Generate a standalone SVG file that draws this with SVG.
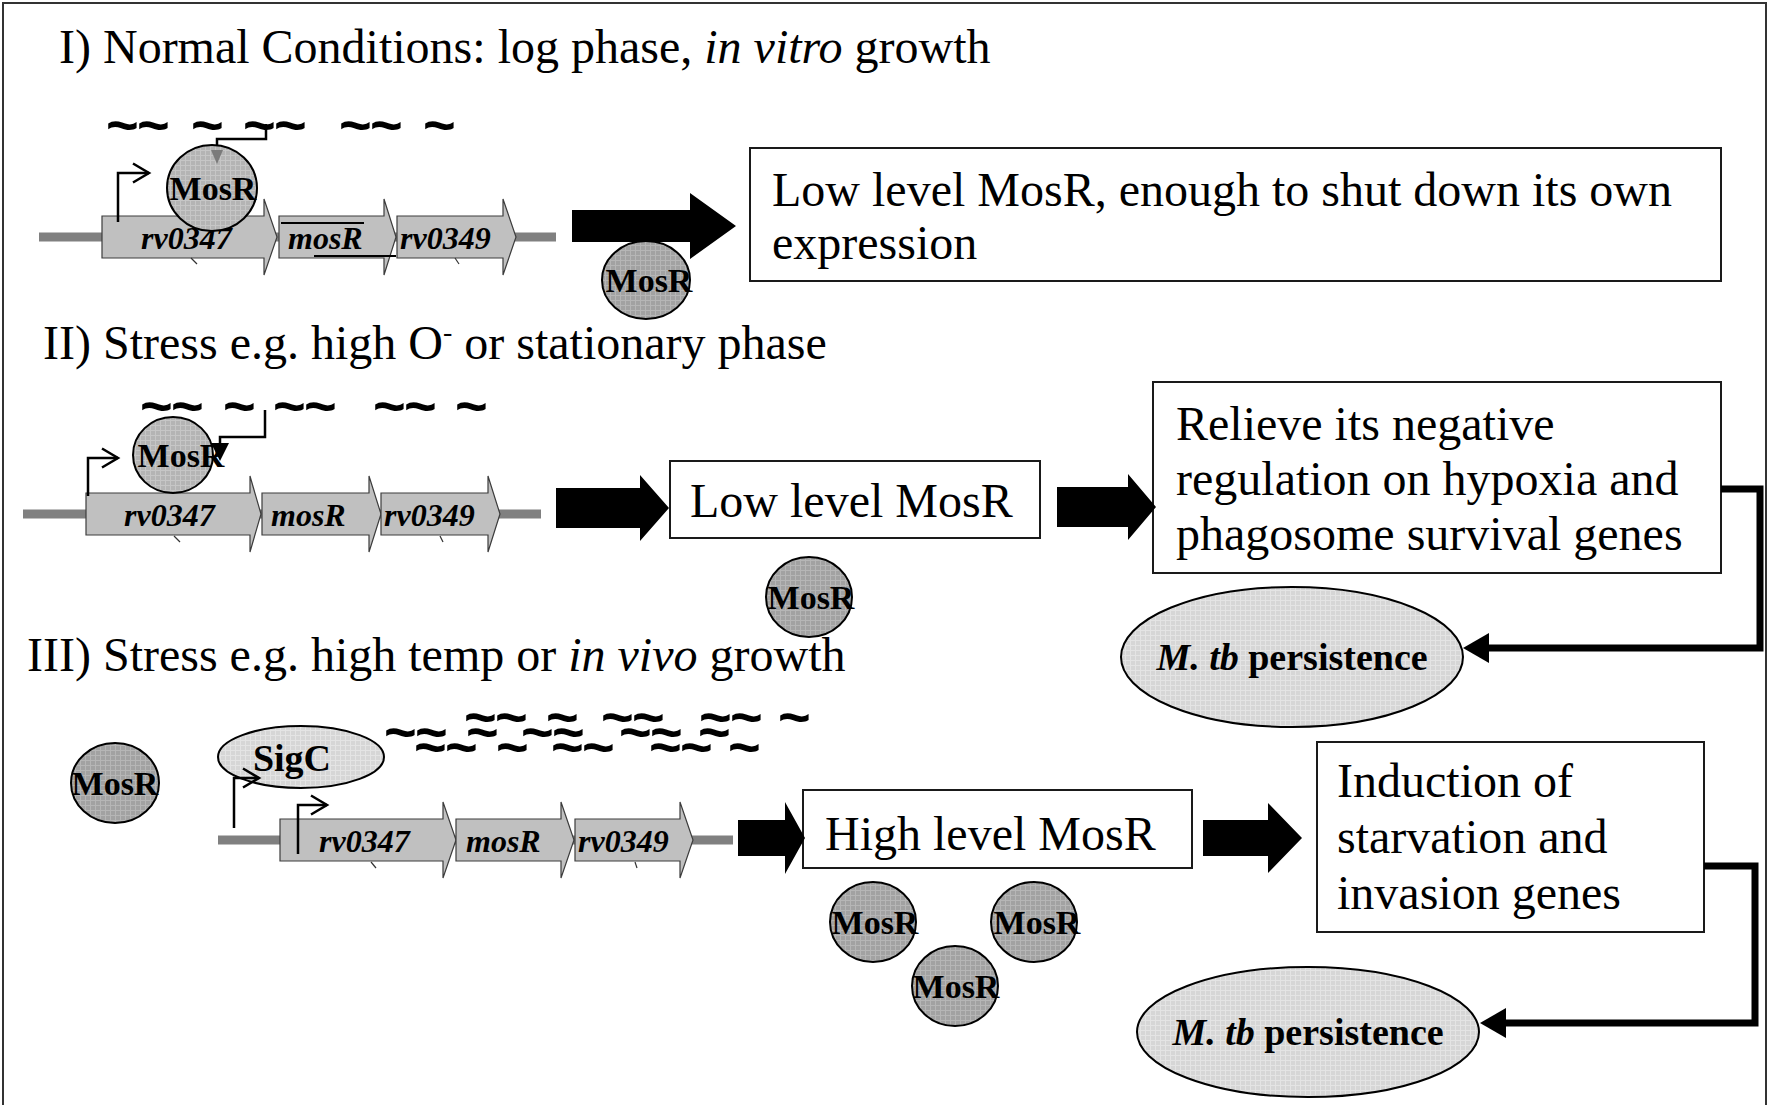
<svg xmlns="http://www.w3.org/2000/svg" width="1769" height="1105" viewBox="0 0 1769 1105">
<defs>
<style>
.serif{font-family:"Liberation Serif","Times New Roman",serif}
.big{font-family:"Liberation Serif","Times New Roman",serif;font-size:48px;fill:#000}
.dna{stroke:#808080;stroke-width:9;fill:none}
.gene{fill:#c0c0c0;stroke:#3c3c3c;stroke-width:1.2}
.gl{font-family:"Liberation Serif","Times New Roman",serif;font-size:32px;font-weight:bold;font-style:italic}
.mt{font-family:"Liberation Serif","Times New Roman",serif;font-size:34px;font-weight:bold;text-anchor:middle}
.box{fill:#fff;stroke:#1a1a1a;stroke-width:2}
.blk{fill:#000}
.prom{fill:none;stroke:#000;stroke-width:2.5;marker-end:url(#chev)}
.line{fill:none;stroke:#000;stroke-width:2.5}
.elbow{fill:none;stroke:#000;stroke-width:7;marker-end:url(#ah)}
.tl{font-family:"Liberation Sans",Arial,sans-serif;font-size:56px;font-weight:bold}
.mosD{fill:url(#pDark);stroke:#000;stroke-width:2}
.mosM{fill:url(#pMid);stroke:#000;stroke-width:2}
.light{fill:url(#pLight);stroke:#000;stroke-width:2}
.tick{stroke:#333;stroke-width:1.2}
.mtb{font-family:"Liberation Serif","Times New Roman",serif;font-size:38px;font-weight:bold;text-anchor:middle}
</style>
<pattern id="pDark" width="5" height="5" patternUnits="userSpaceOnUse"><rect width="5" height="5" fill="#a2a2a2"/><path d="M0 0.5H5M0.5 0V5" stroke="#b6b6b6" stroke-width="1"/></pattern>
<pattern id="pMid" width="5" height="5" patternUnits="userSpaceOnUse"><rect width="5" height="5" fill="#b4b4b4"/><path d="M0 0.5H5M0.5 0V5" stroke="#c6c6c6" stroke-width="1"/></pattern>
<pattern id="pLight" width="5" height="5" patternUnits="userSpaceOnUse"><rect width="5" height="5" fill="#d6d6d6"/><path d="M0 0.5H5M0.5 0V5" stroke="#e4e4e4" stroke-width="1"/></pattern>
<marker id="chev" markerUnits="userSpaceOnUse" markerWidth="22" markerHeight="26" viewBox="-2 -13 22 26" refX="16" refY="0" orient="auto"><path d="M0,-9.5 L16,0 L0,9.5" fill="none" stroke="#000" stroke-width="2.5"/></marker>
<marker id="ah" markerUnits="userSpaceOnUse" markerWidth="26" markerHeight="30" viewBox="0 0 26 30" refX="0" refY="15" orient="auto"><path d="M0,0 L26,15 L0,30 Z" fill="#000"/></marker>
</defs>
<rect width="1769" height="1105" fill="#fff"/>
<path d="M3,1105 V3 H1766 V1105" fill="none" stroke="#333" stroke-width="2"/>

<!-- Titles -->
<text id="title1" class="big" x="59" y="63">I) Normal Conditions: log phase, <tspan font-style="italic">in vitro</tspan> growth</text>
<text id="title2" class="big" x="43" y="359">II) Stress e.g. high O<tspan dy="-18" font-size="28">-</tspan><tspan dy="18"> or stationary phase</tspan></text>
<text id="title3" class="big" x="27" y="671">III) Stress e.g. high temp or <tspan font-style="italic">in vivo</tspan> growth</text>

<!-- Section I -->
<g id="operon1">
<text class="tl" x="106 137 191 243 274 339 370 423" y="144">~~~~~~~~</text>
<line class="dna" x1="39" y1="237" x2="556" y2="237"/>
<path class="gene" d="M102,216 H264 V199 L277,237 L264,275 V258 H102 Z"/>
<path class="gene" d="M279,216 H384 V199 L396,237 L384,275 V258 H279 Z"/>
<path class="gene" d="M397,216 H503 V199 L516,237 L503,275 V258 H397 Z"/>
<text class="gl" x="141" y="249">rv0347</text>
<text class="gl" x="288" y="249">mosR</text>
<text class="gl" x="400" y="249">rv0349</text>
<line x1="281" y1="223" x2="364" y2="223" stroke="#000" stroke-width="2"/>
<line x1="314" y1="256" x2="396" y2="256" stroke="#000" stroke-width="2"/>
<line class="tick" x1="191" y1="258" x2="197" y2="264"/>
<line class="tick" x1="455" y1="258" x2="459" y2="264"/>
<path class="prom" d="M118,222 V173 H149"/>
<path class="line" d="M266,124 V139 H217 V150"/>
</g>
<g id="mosR1">
<ellipse class="mosM" cx="212" cy="188" rx="45" ry="43"/>
<polygon points="211,150 223,150 217,164" fill="#7a7a7a"/>
<text class="mt" x="213" y="200">MosR</text>
</g>
<g id="box1">
<rect class="box" x="750" y="148" width="971" height="133"/>
<text class="big" x="772" y="206">Low level MosR, enough to shut down its own</text>
<text class="big" x="772" y="259">expression</text>
</g>
<g id="mosR1free">
<ellipse class="mosD" cx="646" cy="280" rx="44" ry="39"/>
<text class="mt" x="649" y="292">MosR</text>
</g>

<!-- Section II -->
<g id="operon2">
<text class="tl" x="140 171 223 273 304 373 404 455" y="425">~~~~~~~~</text>
<line class="dna" x1="23" y1="514" x2="541" y2="514"/>
<path class="gene" d="M86,493 H250 V476 L261,514 L250,552 V535 H86 Z"/>
<path class="gene" d="M262,493 H369 V476 L381,514 L369,552 V535 H262 Z"/>
<path class="gene" d="M381,493 H488 V476 L500,514 L488,552 V535 H381 Z"/>
<text class="gl" x="124" y="526">rv0347</text>
<text class="gl" x="271" y="526">mosR</text>
<text class="gl" x="384" y="526">rv0349</text>
<line class="tick" x1="174" y1="536" x2="180" y2="542"/>
<line class="tick" x1="440" y1="536" x2="443" y2="542"/>
<path class="prom" d="M88,496 V458 H118"/>
</g>
<g id="mosR2">
<ellipse class="mosM" cx="173" cy="455" rx="40" ry="38"/>
<path class="line" d="M265,410 V437 H220 V444"/>
<polygon points="211,443 229,443 220,461" fill="#000"/>
<text class="mt" x="181" y="467">MosR</text>
</g>
<g id="box2a">
<rect class="box" x="670" y="461" width="370" height="77"/>
<text class="big" x="690" y="517">Low level MosR</text>
</g>
<g id="mosR2free">
<ellipse class="mosD" cx="809" cy="597" rx="43" ry="40"/>
<text class="mt" x="811" y="609">MosR</text>
</g>
<g id="box2b">
<rect class="box" x="1153" y="382" width="568" height="191"/>
<text class="big" x="1176" y="440">Relieve its negative</text>
<text class="big" x="1176" y="495">regulation on hypoxia and</text>
<text class="big" x="1176" y="550">phagosome survival genes</text>
</g>
<g id="persist2">
<ellipse class="light" cx="1292" cy="657" rx="171" ry="70"/>
<text class="mtb" x="1292" y="670"><tspan font-style="italic">M. tb</tspan> persistence</text>
</g>

<!-- Section III -->
<g id="mosR3free">
<ellipse class="mosD" cx="115" cy="783" rx="44" ry="40"/>
<text class="mt" x="115" y="795">MosR</text>
</g>
<g id="operon3">
<text class="tl" x="464 495 546 601 632 699 730 778" y="736">~~~~~~~~</text>
<text class="tl" x="384 415 466 521 552 619 650 698" y="751">~~~~~~~~</text>
<text class="tl" x="414 445 496 551 582 649 680 728" y="766">~~~~~~~~</text>
<line class="dna" x1="218" y1="840" x2="733" y2="840"/>
<path class="gene" d="M280,819 H443 V802 L456,840 L443,878 V861 H280 Z"/>
<path class="gene" d="M456,819 H561 V802 L574,840 L561,878 V861 H456 Z"/>
<path class="gene" d="M575,819 H680 V802 L693,840 L680,878 V861 H575 Z"/>
<text class="gl" x="319" y="852">rv0347</text>
<text class="gl" x="466" y="852">mosR</text>
<text class="gl" x="578" y="852">rv0349</text>
<line class="tick" x1="371" y1="862" x2="376" y2="868"/>
<line class="tick" x1="635" y1="862" x2="637" y2="868"/>
</g>
<g id="sigC">
<ellipse class="light" cx="301" cy="757" rx="83" ry="31"/>
<text class="serif" x="292" y="771" font-size="38" font-weight="bold" text-anchor="middle">SigC</text>
</g>
<g id="promoters3">
<path class="prom" d="M234,828 V778 H259"/>
<path class="prom" d="M298,854 V805 H327"/>
</g>
<g id="box3a">
<rect class="box" x="803" y="790" width="389" height="78"/>
<text class="big" x="825" y="850">High level MosR</text>
</g>
<g id="mosR3a">
<ellipse class="mosD" cx="873" cy="922" rx="43" ry="40"/>
<text class="mt" x="875" y="934">MosR</text>
</g>
<g id="mosR3b">
<ellipse class="mosD" cx="1034" cy="922" rx="43" ry="40"/>
<text class="mt" x="1037" y="934">MosR</text>
</g>
<g id="mosR3c">
<ellipse class="mosD" cx="955" cy="986" rx="43" ry="40"/>
<text class="mt" x="956" y="998">MosR</text>
</g>
<g id="box3b">
<rect class="box" x="1317" y="742" width="387" height="190"/>
<text class="big" x="1337" y="797">Induction of</text>
<text class="big" x="1337" y="853">starvation and</text>
<text class="big" x="1337" y="909">invasion genes</text>
</g>
<g id="persist3">
<ellipse class="light" cx="1308" cy="1032" rx="171" ry="65"/>
<text class="mtb" x="1308" y="1045"><tspan font-style="italic">M. tb</tspan> persistence</text>
</g>

<!-- Connectors -->
<g id="connectors">
<path class="blk" d="M572,210 H690 V193 L736,226 L690,259 V242 H572 Z"/>
<path class="blk" d="M556,488 H640 V475 L669,508 L640,541 V528 H556 Z"/>
<path class="blk" d="M1057,487 H1128 V474 L1156,507 L1128,540 V527 H1057 Z"/>
<path class="blk" d="M738,820 H785 V802 L805,838 L785,874 V856 H738 Z"/>
<path class="blk" d="M1203,820 H1268 V803 L1302,838 L1268,873 V856 H1203 Z"/>
<path class="elbow" d="M1721,489 H1760 V648 H1489"/>
<path class="elbow" d="M1704,866 H1755 V1023 H1506"/>
</g>
</svg>
